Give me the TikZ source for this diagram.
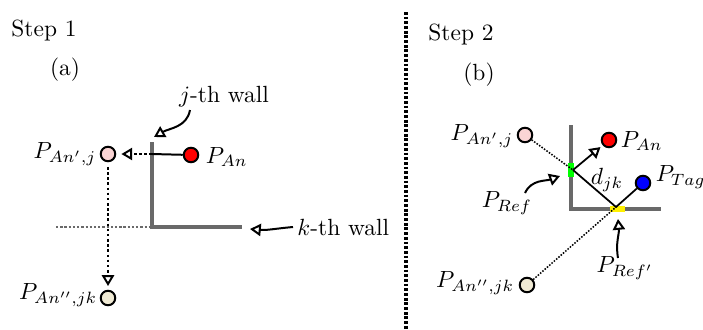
\documentclass[tikz,border=0pt]{standalone}
\usetikzlibrary{arrows.meta}
\definecolor{pinkc}{RGB}{250,212,212}
\definecolor{beigec}{RGB}{240,234,212}
\definecolor{wallc}{RGB}{105,105,105}
\definecolor{greenc}{RGB}{0,255,0}
\definecolor{yellowc}{RGB}{255,240,0}
\begin{document}
\begin{tikzpicture}[x=0.427pt,y=-0.427pt,
  pt/.style={circle,draw=black,line width=0.85pt,minimum size=6.2pt,inner sep=0pt},
  wall/.style={draw=wallc,line width=1.45pt},
  lbl/.style={inner sep=1pt},
  oarrow/.style={-{Triangle[open,length=4.6pt,width=5.2pt,line width=0.85pt]},line width=0.85pt},
  bdots/.style={line width=1.1pt,dash pattern=on 1.1pt off 1.1pt},
  gdots/.style={draw=wallc,line width=1pt,dash pattern=on 1pt off 0.8pt},
  tdots/.style={line width=0.65pt,dash pattern=on 0.65pt off 0.65pt},
  divider/.style={line width=1.4pt,dash pattern=on 1.2pt off 0.8pt},
  mark2/.style={line width=2.2pt}]
\useasboundingbox (0,0) rectangle (703,329);

% ---------- Step 1 ----------
\node (s1) at (44,31) {Step 1};
\node (a) at (65,70) {(a)};
\node (jw) at (224,97) {$j$-th wall};
\node[anchor=west,inner sep=0pt] (kw) at (297,227) {$k$-th wall};

\draw[wall] (152,142) -- (152,227) -- (242,227);
\draw[gdots] (56,227) -- (152,227);

\node[pt,fill=red] (red1) at (191,155) {};
\node[lbl,anchor=west] (lred1) at (203,157) {$P_{An}$};
\node[pt,fill=pinkc] (pink1) at (108,154) {};
\node[lbl,anchor=east] (lpink1) at (99,154) {$P_{An',j}$};
\node[pt,fill=beigec] (beige1) at (108,298) {};
\node[lbl,anchor=east] (lbeige1) at (100,295) {$P_{An'',jk}$};

\coordinate (w1) at (152,154);
\draw[line width=0.85pt] (red1) -- (w1);
\draw[bdots,oarrow,shorten >=2.2pt] (w1) -- (pink1);
\draw[bdots,oarrow,shorten <=2pt,shorten >=1.6pt] (pink1) -- (beige1);

\coordinate (jt) at (190,110);
\coordinate (jh) at (154,137);
\draw[oarrow] (jt) to[out=-100,in=30] (jh);
\coordinate (kt) at (293,227);
\coordinate (kh) at (250,229);
\draw[oarrow] (kt) to[out=185,in=-5] (kh);

% ---------- divider ----------
\coordinate (d1) at (406,12);
\coordinate (d2) at (406,329);
\draw[divider] (d1) -- (d2);

% ---------- Step 2 ----------
\node (s2) at (461,35) {Step 2};
\node (b) at (479,75) {(b)};

\draw[wall] (571,125) -- (571,209) -- (661,209);
\draw[mark2,greenc] (571,163) -- (571,177);
\draw[mark2,yellowc] (610,209) -- (625,209);

\coordinate (ref) at (573,170);
\coordinate (refp) at (616,207);

\node[pt,fill=pinkc] (pink2) at (525,135) {};
\node[lbl,anchor=east] (lpink2) at (516,136) {$P_{An',j}$};
\node[pt,fill=red] (red2) at (609,140) {};
\node[lbl,anchor=west] (lred2) at (618,141) {$P_{An}$};
\node[pt,fill=blue] (blue2) at (643,183) {};
\node[lbl,anchor=west] (lblue2) at (653,177) {$P_{Tag}$};
\node[pt,fill=beigec] (beige2) at (527,285) {};
\node[lbl,anchor=east] (lbeige2) at (517,283) {$P_{An'',jk}$};
\node (djk) at (607,180) {$d_{jk}$};

\draw[tdots] (pink2) -- (ref);
\draw[tdots] (beige2) -- (refp);
\draw[oarrow,line width=0.75pt,shorten >=1.2pt] (ref) -- (red2);
\draw[line width=0.75pt] (ref) -- (refp) -- (blue2);

\node (lref) at (507,203) {$P_{Ref}$};
\coordinate (rt) at (525,193);
\coordinate (rh) at (560,176);
\draw[oarrow] (rt) to[out=65,in=200] (rh);

\node (lrefp) at (625,268) {$P_{Ref'}$};
\coordinate (rpt) at (618,258);
\coordinate (rph) at (618,219);
\draw[oarrow] (rpt) to[out=100,in=-85] (rph);
\end{tikzpicture}
\end{document}
